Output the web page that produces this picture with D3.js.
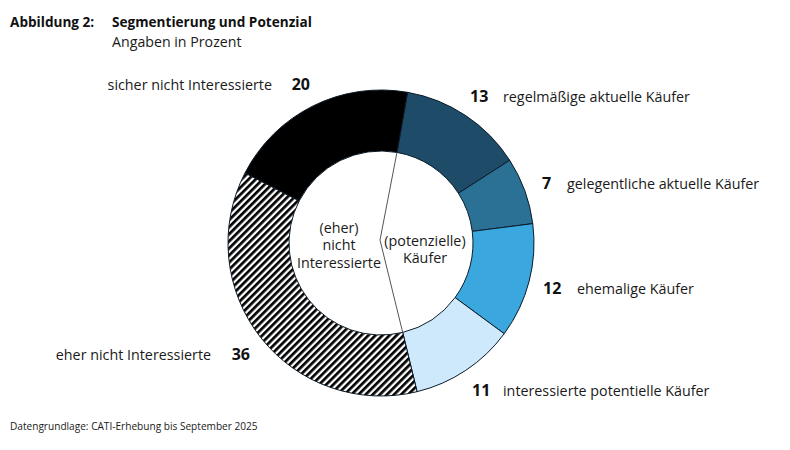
<!DOCTYPE html>
<html>
<head>
<meta charset="utf-8">
<script src="https://cdn.jsdelivr.net/npm/d3@7"></script>
<style>
  html, body { margin: 0; padding: 0; background: #fff; }
  svg { display: block; font-family: "Open Sans", sans-serif; }
</style>
</head>
<body>
<svg id="chart" width="790" height="450"></svg>
<script>
// ---- data ----
const categories = [
  "regelmäßige aktuelle Käufer",
  "gelegentliche aktuelle Käufer",
  "ehemalige Käufer",
  "interessierte potentielle Käufer",
  "eher nicht Interessierte",
  "sicher nicht Interessierte"
];
const values = [13, 7, 12, 11, 36, 20];
const groupLabels = [["(eher)", "nicht", "Interessierte"], ["(potenzielle)", "Käufer"]];
const titleLabel = "Abbildung 2:";
const titleText = "Segmentierung und Potenzial";
const subtitleText = "Angaben in Prozent";
const sourceText = "Datengrundlage: CATI-Erhebung bis September 2025";

// ---- styles / layout ----
const fills = ["#1e4c68", "#2b7196", "#3aa7df", "#cde9fb", "url(#hatch)", "#000000"];
const cx = 381, cy = 243, rOuter = 153, rInner = 92;
const startDeg = 10;
const labelSize = 14.3, textColor = "#1a1a1a";
const labelLayout = [
  {nx: 470, tx: 503, y: 102, side: "right"},
  {nx: 542, tx: 567, y: 189, side: "right"},
  {nx: 543, tx: 577, y: 294, side: "right"},
  {nx: 472, tx: 503, y: 396, side: "right"},
  {nx: 250, tx: 211, y: 360, side: "left"},
  {nx: 310, tx: 272, y: 90, side: "left"}
];

const svg = d3.select("#chart");
const defs = svg.append("defs");
const pat = defs.append("pattern")
  .attr("id", "hatch").attr("patternUnits", "userSpaceOnUse")
  .attr("width", 5).attr("height", 5)
  .attr("patternTransform", "rotate(45)");
pat.append("rect").attr("width", 5).attr("height", 5).attr("fill", "#fff");
pat.append("rect").attr("x", 0).attr("width", 2.7).attr("height", 5).attr("fill", "#000");

const start = startDeg * Math.PI / 180;
const pie = d3.pie().sort(null).value(d => d)
  .startAngle(start).endAngle(start + 2 * Math.PI);
const arcs = pie(values);
const arc = d3.arc().innerRadius(rInner).outerRadius(rOuter);

const g = svg.append("g").attr("transform", `translate(${cx},${cy})`);
g.selectAll("path.seg").data(arcs).enter().append("path")
  .attr("class", "seg")
  .attr("d", arc)
  .attr("fill", (d, i) => fills[i])
  .attr("stroke", "#0b1b28")
  .attr("stroke-width", 1);

// divider line between the two groups
const buyerEnd = arcs[3].endAngle;
const pt = (a, r) => [r * Math.sin(a), -r * Math.cos(a)];
const p1 = pt(start, rInner), p2 = pt(buyerEnd, rInner);
g.append("path")
  .attr("d", `M${p1[0]},${p1[1]} L-1,-3 L${p2[0]},${p2[1]}`)
  .attr("fill", "none").attr("stroke", "#555").attr("stroke-width", 1);

// group labels
const gl = [{x: -42, y: -10, lines: groupLabels[0]}, {x: 44, y: 3, lines: groupLabels[1]}];
gl.forEach(o => {
  const t = g.append("text").attr("text-anchor", "middle")
    .attr("font-size", labelSize).attr("fill", textColor);
  o.lines.forEach((l, i) => t.append("tspan").attr("x", o.x).attr("y", o.y + i * 17.3).text(l));
});

// segment labels
arcs.forEach((d, i) => {
  const L = labelLayout[i];
  const anchor = L.side === "right" ? "start" : "end";
  svg.append("text").attr("x", L.nx).attr("y", L.y).attr("font-size", 16)
    .attr("text-anchor", anchor)
    .attr("font-weight", 700).attr("fill", "#111").text(values[i]);
  svg.append("text").attr("x", L.tx).attr("y", L.y).attr("font-size", labelSize)
    .attr("text-anchor", anchor)
    .attr("fill", textColor).text(categories[i]);
});

// titles
svg.append("text").attr("x", 10).attr("y", 27).attr("font-size", 13.6)
  .attr("font-weight", 700).attr("fill", "#111").text(titleLabel);
svg.append("text").attr("x", 112).attr("y", 27).attr("font-size", 13.6)
  .attr("font-weight", 700).attr("fill", "#111").text(titleText);
svg.append("text").attr("x", 112).attr("y", 47).attr("font-size", 14.2)
  .attr("fill", textColor).text(subtitleText);
svg.append("text").attr("x", 10).attr("y", 430).attr("font-size", 10.1)
  .attr("fill", textColor).text(sourceText);
</script>
</body>
</html>
